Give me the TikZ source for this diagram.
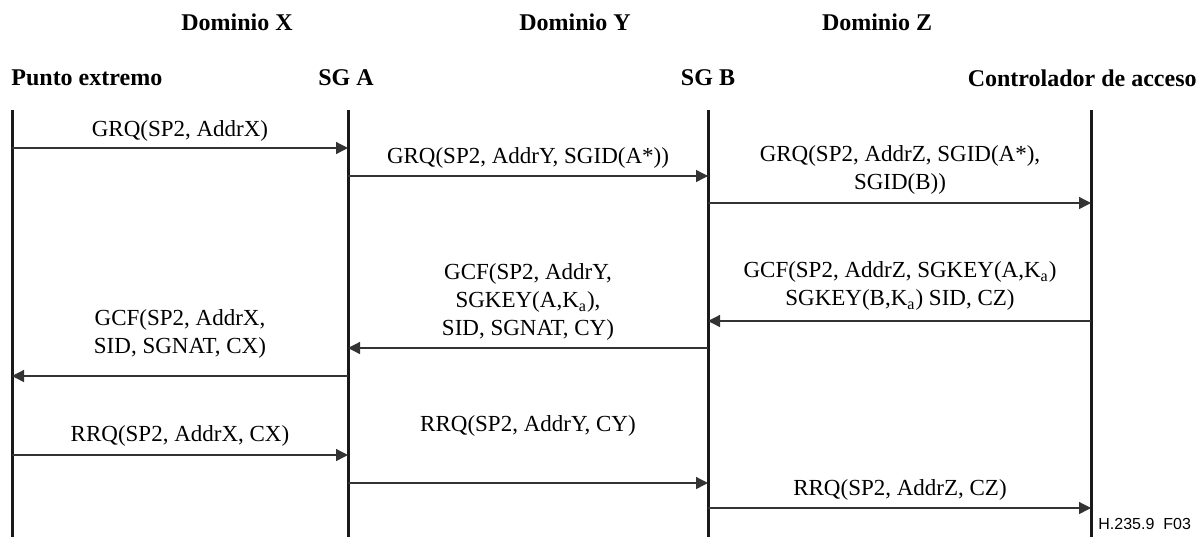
\documentclass[tikz,border=0pt]{standalone}
\usepackage{fontspec}
\setmainfont{Liberation Serif}
\newfontfamily\figsans{Liberation Sans}
\usepackage{tikz}
\usetikzlibrary{arrows.meta}

\tikzset{
  domainlabel/.style={font=\fontsize{12}{14}\selectfont\bfseries, inner sep=0pt},
  entity/.style={font=\fontsize{12}{14}\selectfont\bfseries, inner sep=0pt},
  lifeline/.style={line width=1.5pt, black!90},
  msg/.style={line width=0.65pt, black!80, -{Triangle[length=6pt,width=6pt]}},
  msglabel/.style={font=\fontsize{11.5}{14}\selectfont, align=center, inner sep=0pt},
}

\begin{document}
\begin{tikzpicture}[x=0.5pt,y=-0.5pt]
\useasboundingbox (0,0) rectangle (1203,537);
% domains
\node[domainlabel] (domx) at (237,22) {Dominio X};
\node[domainlabel] (domy) at (575,22) {Dominio Y};
\node[domainlabel] (domz) at (877,22) {Dominio Z};
% entities
\node[entity, anchor=west] (ept) at (11,78) {Punto extremo};
\node[entity] (sgahead) at (346,78) {SG A};
\node[entity] (sgbhead) at (708,78) {SG B};
\node[entity, anchor=east] (ctlhead) at (1197,78) {Controlador de acceso};
% lifelines
\coordinate (pe) at (12,110);  \coordinate (peend) at (12,537);
\coordinate (sga) at (348,110); \coordinate (sgaend) at (348,537);
\coordinate (sgb) at (708,110); \coordinate (sgbend) at (708,537);
\coordinate (ctl) at (1091,110); \coordinate (ctlend) at (1091,537);
\draw[lifeline] (pe) -- (peend);
\draw[lifeline] (sga) -- (sgaend);
\draw[lifeline] (sgb) -- (sgbend);
\draw[lifeline] (ctl) -- (ctlend);
% message levels
\coordinate (y1) at (0,148);
\coordinate (y2) at (0,176);
\coordinate (y3) at (0,203);
\coordinate (y4) at (0,321);
\coordinate (y5) at (0,348);
\coordinate (y6) at (0,376);
\coordinate (y7) at (0,455);
\coordinate (y8) at (0,483);
\coordinate (y9) at (0,508);
% GRQ
\draw[msg] (pe |- y1) -- (sga |- y1);
\node[msglabel] (grqx) at (180,131) {GRQ(SP2, AddrX)};
\draw[msg] (sga |- y2) -- (sgb |- y2);
\node[msglabel] (grqy) at (528,158) {GRQ(SP2, AddrY, SGID(A*))};
\draw[msg] (sgb |- y3) -- (ctl |- y3);
\node[msglabel] (grqz) at (900,170) {GRQ(SP2, AddrZ, SGID(A*),\\SGID(B))};
% GCF
\draw[msg] (ctl |- y4) -- (sgb |- y4);
\node[msglabel] (gcfz) at (900,286) {GCF(SP2, AddrZ, SGKEY(A,K\textsubscript{a})\\SGKEY(B,K\textsubscript{a}) SID, CZ)};
\draw[msg] (sgb |- y5) -- (sga |- y5);
\node[msglabel] (gcfy) at (528,302) {GCF(SP2, AddrY,\\SGKEY(A,K\textsubscript{a}),\\SID, SGNAT, CY)};
\draw[msg] (sga |- y6) -- (pe |- y6);
\node[msglabel] (gcfx) at (180,334) {GCF(SP2, AddrX,\\SID, SGNAT, CX)};
% RRQ
\draw[msg] (pe |- y7) -- (sga |- y7);
\node[msglabel] (rrqx) at (180,436) {RRQ(SP2, AddrX, CX)};
\draw[msg] (sga |- y8) -- (sgb |- y8);
\node[msglabel] (rrqy) at (528,426) {RRQ(SP2, AddrY, CY)};
\draw[msg] (sgb |- y9) -- (ctl |- y9);
\node[msglabel] (rrqz) at (900,490) {RRQ(SP2, AddrZ, CZ)};
% figure tag
\node[font=\figsans\fontsize{8}{9}\selectfont, anchor=west, inner sep=0pt] (tag) at (1098,524) {H.235.9\ \ F03};
\end{tikzpicture}
\end{document}
